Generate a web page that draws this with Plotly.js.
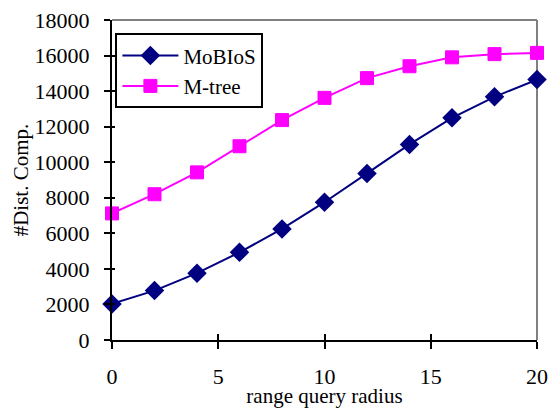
<!DOCTYPE html>
<html>
<head>
<meta charset="utf-8">
<script src="https://cdn.plot.ly/plotly-3.0.1.min.js"></script>
<style>html,body{margin:0;padding:0;background:#fff;}#chart{width:549px;height:408px;}</style>
</head>
<body>
<div id="chart"></div>
<script>
const radius = [0, 2, 4, 6, 8, 10, 12, 14, 16, 18, 20];
const mobios = [2030, 2780, 3760, 4930, 6250, 7750, 9370, 11000, 12500, 13680, 14650];
const mtree = [7120, 8200, 9430, 10900, 12370, 13620, 14730, 15400, 15900, 16080, 16150];
const seriesNames = ["MoBIoS", "M-tree"];
const xTicks = [0, 5, 10, 15, 20];
const yTicks = [0, 2000, 4000, 6000, 8000, 10000, 12000, 14000, 16000, 18000];

const serif = "Liberation Serif";

const traces = [
  {
    x: radius, y: mobios, name: seriesNames[0], type: "scatter", mode: "lines+markers",
    line: {color: "#000080", width: 2},
    marker: {symbol: "diamond", size: 15, color: "#000080"},
    cliponaxis: false
  },
  {
    x: radius, y: mtree, name: seriesNames[1], type: "scatter", mode: "lines+markers",
    line: {color: "#FF00FF", width: 2},
    marker: {symbol: "square", size: 13, color: "#FF00FF", line: {color: "#FF00FF", width: 1}},
    cliponaxis: false
  },
  {
    x: [radius[0]], y: [mobios[0]], xaxis: "x2", yaxis: "y2", type: "scatter", mode: "markers",
    marker: {opacity: 0}, showlegend: false, hoverinfo: "skip"
  }
];

const layout = {
  width: 549, height: 408,
  margin: {l: 112, r: 12, t: 20, b: 68},
  paper_bgcolor: "#fff", plot_bgcolor: "#fff",
  font: {family: serif, color: "#000", size: 22},
  showlegend: true,
  legend: {
    x: 0.008, y: 0.958, xanchor: "left", yanchor: "top",
    bordercolor: "#000", borderwidth: 2, bgcolor: "#fff",
    font: {family: serif, size: 21, color: "#000"},
    tracegroupgap: 0, itemwidth: 56
  },
  xaxis: {
    range: [0, 20], tickvals: xTicks, ticktext: xTicks.map(String),
    ticks: "outside", ticklen: 7, tickwidth: 2, tickcolor: "#000",
    showline: true, linecolor: "#000", linewidth: 2, showgrid: false, zeroline: false,
    tickfont: {family: serif, size: 22, color: "#000"}, ticklabelstandoff: 9,
    title: {text: "range query radius", font: {family: serif, size: 21, color: "#000"}}
  },
  yaxis: {
    range: [0, 18000], tickvals: yTicks, ticktext: yTicks.map(String),
    ticks: "outside", ticklen: 6, tickwidth: 2, tickcolor: "#000",
    showline: true, linecolor: "#000", linewidth: 2, showgrid: false, zeroline: false,
    tickfont: {family: serif, size: 22, color: "#000"}, ticklabelstandoff: 10,
    title: {text: "#Dist. Comp.", font: {family: serif, size: 21, color: "#000"}}
  },
  xaxis2: {
    overlaying: "x", range: [0, 20], tickvals: xTicks, showticklabels: false,
    ticks: "inside", ticklen: 6, tickwidth: 2, tickcolor: "#000",
    showline: false, showgrid: false, zeroline: false, side: "bottom"
  },
  yaxis2: {
    overlaying: "y", range: [0, 18000], tickvals: yTicks, showticklabels: false,
    ticks: "inside", ticklen: 3, tickwidth: 2, tickcolor: "#000",
    showline: false, showgrid: false, zeroline: false, side: "left"
  },
  shapes: [
    {type: "line", xref: "paper", yref: "paper", x0: 0, x1: 1, y0: 1, y1: 1, line: {color: "#808080", width: 2}, layer: "below"},
    {type: "line", xref: "paper", yref: "paper", x0: 1, x1: 1, y0: 0, y1: 1, line: {color: "#808080", width: 2}, layer: "below"}
  ]
};

Plotly.newPlot("chart", traces, layout, {displayModeBar: false, staticPlot: true});
</script>
</body>
</html>
